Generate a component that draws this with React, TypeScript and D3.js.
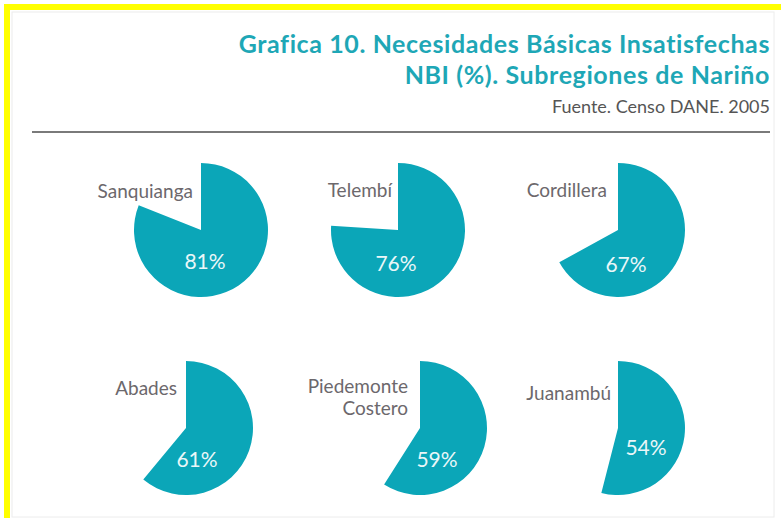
import React, { useEffect, useRef } from "react";
import * as d3 from "d3";

// data
const regions = ["Sanquianga", "Telembí", "Cordillera", "Abades", "Piedemonte\nCostero", "Juanambú"];
const nbiValues = [81, 76, 67, 61, 59, 54];
const titleLines = ["Grafica 10. Necesidades Básicas Insatisfechas", "NBI (%). Subregiones de Nariño"];
const sourceText = "Fuente. Censo DANE. 2005";

// layout for each little pie: center, name label anchor (right end), value label offset
const pieLayout = [
  { cx: 201, cy: 230, nx: -8, ny: -32, vx: 4, vy: 30 },
  { cx: 398, cy: 230, nx: -6, ny: -33, vx: -2, vy: 32 },
  { cx: 618, cy: 230, nx: -11, ny: -33, vx: 8, vy: 33 },
  { cx: 186, cy: 428, nx: -9, ny: -33, vx: 11, vy: 30 },
  { cx: 420, cy: 428, nx: -12, ny: -35, vx: 17, vy: 30 },
  { cx: 618, cy: 428, nx: -7, ny: -28, vx: 28, vy: 18 },
];

const W = 781;
const H = 518;
const TEAL = "#0ba6b8";

export default function App() {
  const ref = useRef<SVGSVGElement>(null);

  useEffect(() => {
    const svg = d3.select(ref.current);
    svg.selectAll("*").remove();

    svg.append("rect").attr("width", W).attr("height", H).attr("fill", "#fff");

    // faint frame + yellow corner border
    svg.append("rect")
      .attr("x", 12).attr("y", 12)
      .attr("width", 762).attr("height", 505)
      .attr("fill", "none").attr("stroke", "#ececec");
    svg.append("rect").attr("x", 4).attr("y", 4).attr("width", W - 4).attr("height", 6).attr("fill", "#ffff00");
    svg.append("rect").attr("x", 4).attr("y", 4).attr("width", 6).attr("height", H - 4).attr("fill", "#ffff00");

    // title, two separate lines
    titleLines.forEach((t, i) => {
      svg.append("text")
        .attr("x", 770).attr("y", 53 + i * 30.5)
        .attr("text-anchor", "end")
        .attr("font-family", "Lato, sans-serif")
        .attr("font-weight", 700)
        .attr("font-size", 25)
        .attr("letter-spacing", 0.6)
        .attr("fill", "#1ea7b6")
        .text(t);
    });

    svg.append("text")
      .attr("x", 770).attr("y", 113)
      .attr("text-anchor", "end")
      .attr("font-family", "Lato, sans-serif")
      .attr("font-size", 18)
      .attr("fill", "#555")
      .text(sourceText);

    svg.append("line")
      .attr("x1", 32).attr("x2", 770)
      .attr("y1", 132).attr("y2", 132)
      .attr("stroke", "#7a7a7a").attr("stroke-width", 2);

    // pies
    const angle = d3.scaleLinear().domain([0, 100]).range([0, 2 * Math.PI]);
    const arc = d3.arc<number>()
      .innerRadius(0)
      .outerRadius(67)
      .startAngle(0)
      .endAngle(d => angle(d));

    regions.forEach((name, i) => {
      const L = pieLayout[i];
      const g = svg.append("g").attr("transform", `translate(${L.cx},${L.cy})`);

      g.append("path").attr("d", arc(nbiValues[i]) as string).attr("fill", TEAL);

      const lines = name.split("\n");
      const lab = g.append("text")
        .attr("text-anchor", "end")
        .attr("font-family", "Lato, sans-serif")
        .attr("font-size", 19)
        .attr("fill", "#6c686c");
      lines.forEach((ln, j) => {
        lab.append("tspan")
          .attr("x", L.nx)
          .attr("y", L.ny + j * 22)
          .text(ln);
      });

      g.append("text")
        .attr("x", L.vx).attr("y", L.vy)
        .attr("text-anchor", "middle")
        .attr("dominant-baseline", "central")
        .attr("font-family", "Lato, sans-serif")
        .attr("font-size", 21)
        .attr("fill", "#eaf7f8")
        .text(`${nbiValues[i]}%`);
    });
  }, []);

  return (
    <div style={{ position: "absolute", left: 0, top: 0 }}>
      <svg ref={ref} width={W} height={H} style={{ display: "block" }} />
    </div>
  );
}
